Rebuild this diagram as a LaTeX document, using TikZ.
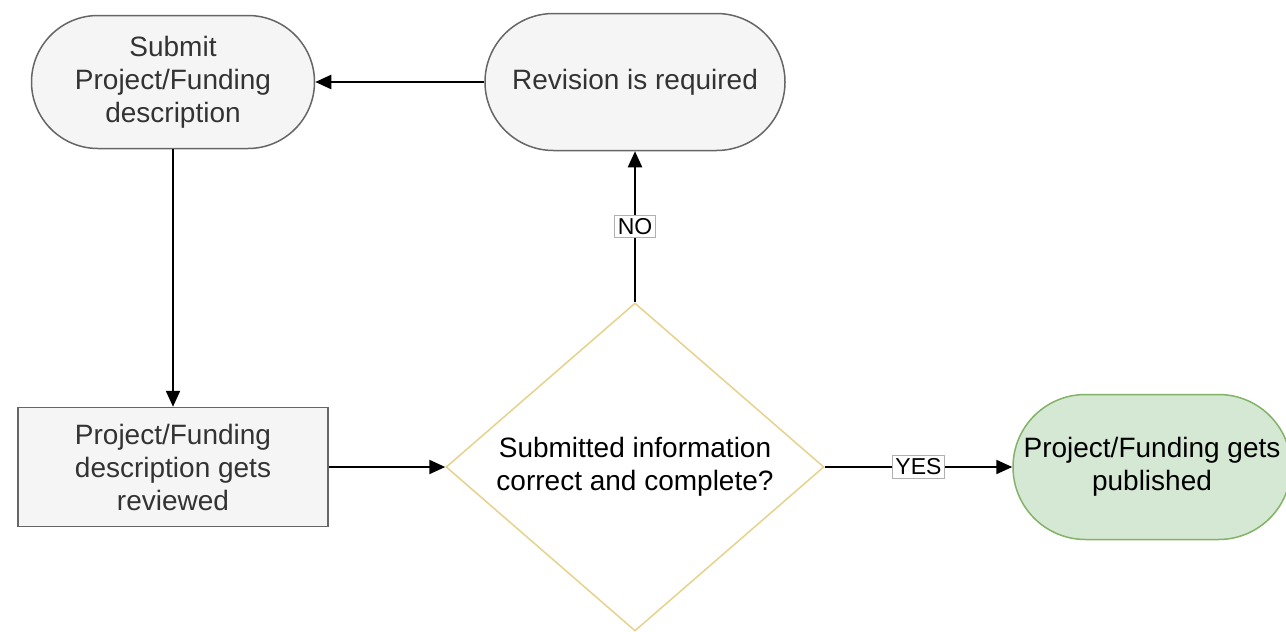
\documentclass[tikz,border=0pt]{standalone}
\usepackage{fontspec}
\setmainfont{Liberation Sans}
\usetikzlibrary{shapes.geometric,shapes.misc,arrows.meta}
\definecolor{grayfill}{HTML}{F5F5F5}
\definecolor{graystroke}{HTML}{666666}
\definecolor{graytext}{HTML}{333333}
\definecolor{greenfill}{HTML}{D5E8D4}
\definecolor{greenstroke}{HTML}{82B366}
\definecolor{yellowstroke}{HTML}{E6D28A}
\definecolor{labelborder}{HTML}{B0B0B0}
\tikzset{
  txt/.style={font=\fontsize{28}{33}\selectfont, align=center},
  roundbox/.style={txt, draw=graystroke, fill=grayfill, text=graytext, line width=1.5pt, rounded rectangle},
  rectbox/.style={txt, draw=graystroke, fill=grayfill, text=graytext, line width=1.5pt, rectangle},
  greenbox/.style={txt, draw=greenstroke, fill=greenfill, text=black, line width=1.5pt, rounded rectangle},
  decision/.style={txt, draw=yellowstroke, fill=white, text=black, line width=1.5pt, diamond, aspect=1.15},
  conn/.style={draw=black, line width=2.2pt, -{Triangle[length=16pt,width=14pt]}},
  lbl/.style={font=\fontsize{23}{25}\selectfont, fill=white, draw=labelborder, line width=0.8pt, inner sep=3pt, text=black},
}
\begin{document}
\begin{tikzpicture}[x=1pt,y=-1pt]
\useasboundingbox (0,0) rectangle (1286,632);
\node[roundbox, minimum width=283pt, minimum height=133pt, inner sep=0pt] (submit) at (173,82) {Submit\\Project/Funding\\description};
\node[roundbox, minimum width=300pt, minimum height=137pt, inner sep=0pt] (revision) at (635,82) {Revision is required};
\node[rectbox, minimum width=310pt, minimum height=119pt, inner sep=0pt] (review) at (173,467) {Project/Funding\\description gets\\reviewed};
\node[decision, minimum width=378pt, minimum height=328pt, inner sep=0pt] (check) at (635,467) {Submitted information\\correct and complete?};
\node[greenbox, minimum width=278pt, minimum height=145pt, inner sep=0pt] (publish) at (1152,467) {Project/Funding gets\\published};
\draw[conn] (revision.west) -- (submit.east);
\draw[conn] (submit.south) -- (review.north);
\draw[conn] (review.east) -- (check.west);
\draw[conn] (check.north) -- node[lbl] {NO} (revision.south);
\draw[conn] (check.east) -- node[lbl, pos=0.5] {YES} (publish.west);
\end{tikzpicture}
\end{document}
